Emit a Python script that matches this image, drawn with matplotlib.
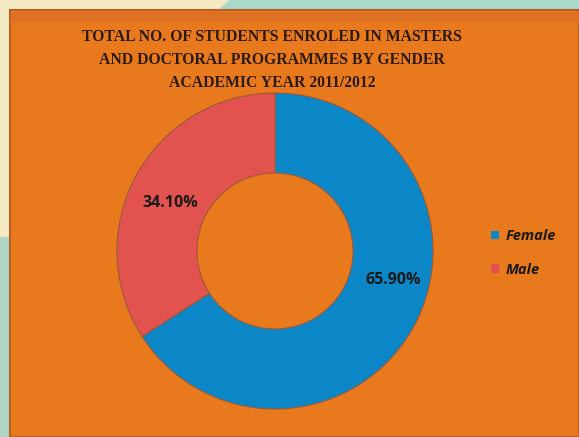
import matplotlib
matplotlib.use("Agg")
import matplotlib.pyplot as plt
from matplotlib.patches import Rectangle, Polygon, Patch

# data
genders = ['Female', 'Male']
shares = [65.90, 34.10]
share_labels = ['65.90%', '34.10%']
colors = ['#0B86C6', '#E2524E']

title = ('TOTAL NO. OF STUDENTS ENROLED IN MASTERS\n'
         'AND DOCTORAL PROGRAMMES BY GENDER\n'
         'ACADEMIC YEAR 2011/2012')

W, H = 579, 437
fig = plt.figure(figsize=(W / 100, H / 100), dpi=100, facecolor='#F3E9C2')
ax = fig.add_axes([0, 0, 1, 1])
ax.set_xlim(0, W)
ax.set_ylim(0, H)
ax.set_aspect('equal')
ax.axis('off')

# background outside the panel (cream + teal)
ax.add_patch(Polygon([(230, H), (W, H), (W, H - 12), (215, H - 12)],
                     closed=True, color='#A9D9C9', zorder=0))
ax.add_patch(Rectangle((0, 0), 10, 200, color='#AFD6C4', zorder=0))

# orange panel
ax.add_patch(Rectangle((10, 0), W - 10, H - 10, facecolor='#E9791D',
                       edgecolor='#B8602A', lw=1.5, zorder=1))
ax.add_patch(Rectangle((12, H - 22), W - 12, 10, facecolor='#DD7022',
                       edgecolor='none', zorder=1))

cx, cy = 275, H - 251
wedges, _ = ax.pie(shares, colors=colors, startangle=90, counterclock=False,
                   center=(cx, cy), radius=158, frame=True,
                   wedgeprops=dict(width=80, edgecolor='#9a5a3a', linewidth=0.8))
for w in wedges:
    w.set_zorder(3)
ax.set_xlim(0, W)
ax.set_ylim(0, H)
ax.axis('off')

# percentage labels
ax.text(393, H - 280, share_labels[0], ha='center', va='center', fontsize=11.5,
        fontweight='bold', color='#1a1a1a', family='Open Sans', zorder=4)
ax.text(170, H - 203, share_labels[1], ha='center', va='center', fontsize=11.5,
        fontweight='bold', color='#1a1a1a', family='Open Sans', zorder=4)

ax.text(272, H - 60, title, ha='center', va='center', fontsize=11.3,
        fontweight='bold', family='Liberation Serif', color='#2a1a12',
        linespacing=1.55, zorder=4)

handles = [Patch(facecolor=c, edgecolor='none') for c in colors]
leg = ax.legend(handles, genders, loc='center left',
                bbox_to_anchor=(478 / W, 1 - 253 / H), frameon=False,
                prop=dict(family='Open Sans', style='italic', weight='bold', size=10.5),
                handlelength=0.55, handleheight=0.55, handletextpad=0.45,
                labelspacing=1.35)
for t in leg.get_texts():
    t.set_color('#1a1a1a')

fig.savefig('out.png', dpi=100, facecolor=fig.get_facecolor())
